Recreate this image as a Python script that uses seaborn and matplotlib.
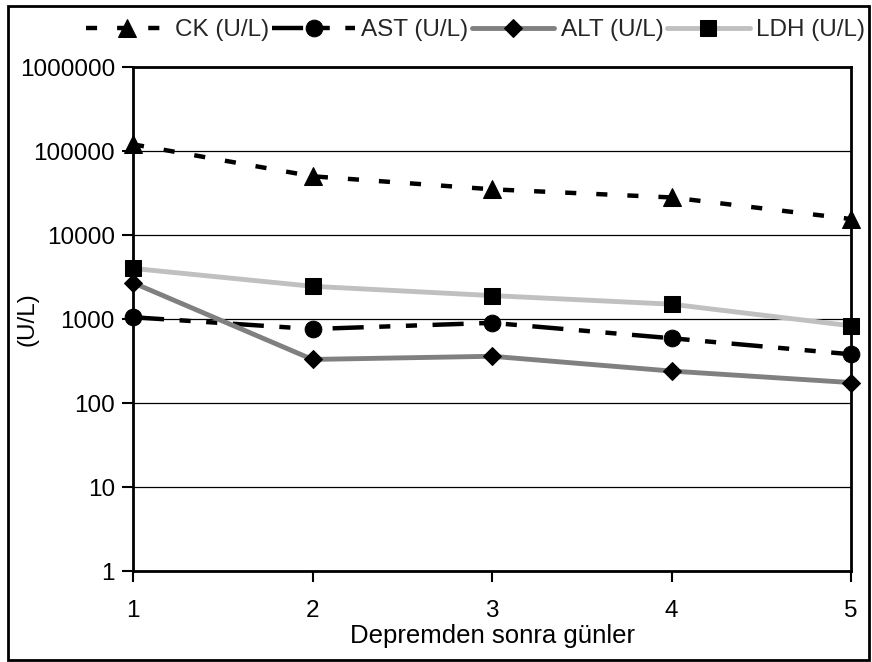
import matplotlib
matplotlib.use("Agg")
import matplotlib.pyplot as plt
import matplotlib.ticker as mticker
from matplotlib.patches import Rectangle
import seaborn as sns
import pandas as pd

sns.set_theme(style="white")
plt.rcParams['font.family'] = ['Liberation Sans', 'DejaVu Sans']

days = [1, 2, 3, 4, 5]
ck = [120000, 50000, 35000, 28000, 15500]
ast = [1050, 760, 900, 590, 380]
alt = [2700, 330, 360, 240, 175]
ldh = [4000, 2450, 1900, 1500, 830]
labels = ["CK (U/L)", "AST (U/L)", "ALT (U/L)", "LDH (U/L)"]
yticks = [1, 10, 100, 1000, 10000, 100000, 1000000]

FS = 17.5

fig = plt.figure(figsize=(8.72, 6.62), dpi=100)
ax = fig.add_axes([133/872, 1-571/662, (851-133)/872, (571-67)/662])

styles = [
    dict(values=ck, color="black", marker="^", ms=13, lw=3.2, dashes=(2.5, 4.5)),
    dict(values=ast, color="black", marker="o", ms=12, lw=3.2, dashes=(7, 3.5, 2.5, 3.5, 2.5, 3.5)),
    dict(values=alt, color="#808080", marker="D", ms=9, lw=3.5, dashes=None),
    dict(values=ldh, color="#c0c0c0", marker="s", ms=11.5, lw=3.5, dashes=None),
]

handles = []
for lab, st in zip(labels, styles):
    df = pd.DataFrame({"day": days, "val": st["values"]})
    sns.lineplot(data=df, x="day", y="val", ax=ax, color=st["color"], marker=st["marker"],
                 markersize=st["ms"], linewidth=st["lw"], markerfacecolor="black",
                 markeredgecolor="black", label=lab, clip_on=False, zorder=3)
    line = ax.lines[-1]
    if st["dashes"] is not None:
        line.set_dashes(st["dashes"])
    handles.append(line)

ax.set_yscale("log")
ax.set_ylim(1, 1000000)
ax.set_xlim(1, 5)
ax.set_xticks(days)
ax.set_yticks(yticks)
ax.yaxis.set_major_formatter(mticker.FuncFormatter(lambda v, p: f"{int(round(v))}"))
ax.yaxis.set_minor_locator(mticker.NullLocator())
ax.grid(axis="y", color="black", linewidth=0.9)
ax.set_axisbelow(True)
for s in ax.spines.values():
    s.set_color("black")
    s.set_linewidth(2)
ax.tick_params(axis="both", direction="out", length=8, width=1.5, color="black",
               labelsize=FS, labelcolor="black", left=True, bottom=True)
ax.tick_params(axis="x", pad=13)
ax.tick_params(axis="y", pad=5)
ax.set_xlabel("Depremden sonra günler", fontsize=18.5, color="black", labelpad=1)
ax.set_ylabel("(U/L)", fontsize=FS, color="black")
ax.yaxis.set_label_coords((38-133)/718, 0.5)
ax.legend_.remove()

fig.legend(handles, labels, loc="center", bbox_to_anchor=(0.545, 1-30/662), ncol=4,
           frameon=False, fontsize=FS, handlelength=3.4, handletextpad=0.25,
           columnspacing=0.15, borderaxespad=0)

fig.patches.append(Rectangle((8/872, 2/662), 1-11/872, 1-8/662, transform=fig.transFigure,
                             fill=False, edgecolor="black", linewidth=2))

fig.savefig("out.png", dpi=100)
